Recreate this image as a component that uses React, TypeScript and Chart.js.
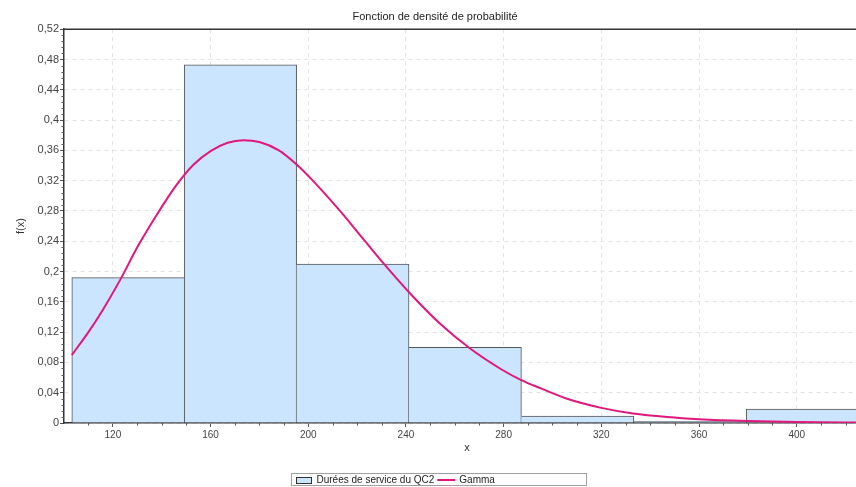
import React, { useEffect, useRef } from 'react';
import { Chart, registerables } from 'chart.js';

Chart.register(...registerables);

// ---- data ----
const binEdges = [103.2, 149.22, 195.24, 241.26, 287.28, 333.3, 379.32, 425.34];
const binFreq = [0.192, 0.473, 0.21, 0.1, 0.0092, 0.0021, 0.0185];
const gammaX = [103.2, 110, 116, 123, 130, 138, 146, 153, 160, 167, 173.4, 180, 188, 195, 201, 213, 222, 231, 242, 254, 266, 279, 287, 295, 306, 320, 333, 347, 360, 380, 400, 430];
const gammaY = [0.0897, 0.12, 0.15, 0.189, 0.232, 0.275, 0.314, 0.341, 0.359, 0.37, 0.3735, 0.371, 0.36, 0.342, 0.323, 0.28, 0.245, 0.21, 0.17, 0.131, 0.099, 0.071, 0.057, 0.046, 0.032, 0.02, 0.0125, 0.0078, 0.005, 0.0026, 0.0013, 0.0005];
const xTicks = [120, 160, 200, 240, 280, 320, 360, 400];
const yTicks = [0, 0.04, 0.08, 0.12, 0.16, 0.2, 0.24, 0.28, 0.32, 0.36, 0.4, 0.44, 0.48, 0.52];
const xMinorStep = 10;
const yMinorStep = 0.008;
const titleText = 'Fonction de densité de probabilité';
const histLabel = 'Durées de service du QC2';
const curveLabel = 'Gamma';

const FONT = '"Liberation Sans", Arial, sans-serif';
const BAR_FILL = '#cce5ff';
const BAR_BORDER = '#555555';
const CURVE = '#e0177d';

const fmt = (v: number) => {
  const s = Number(v.toFixed(3)).toString();
  return s.replace('.', ',');
};

const extras = {
  id: 'extras',
  afterDraw(chart: any) {
    const { ctx, chartArea } = chart;
    const xs = chart.scales.x;
    const ys = chart.scales.y;
    ctx.save();
    // minor ticks
    ctx.strokeStyle = '#555';
    ctx.lineWidth = 1;
    ctx.beginPath();
    for (let v = xs.min + xMinorStep; v < xs.max; v += xMinorStep) {
      const r = Math.round(v);
      if (xTicks.includes(r)) continue;
      const px = Math.round(xs.getPixelForValue(r)) + 0.5;
      ctx.moveTo(px, chartArea.bottom);
      ctx.lineTo(px, chartArea.bottom + 2.5);
    }
    const nMinor = Math.round((ys.max - ys.min) / yMinorStep);
    for (let k = 1; k < nMinor; k++) {
      if (k % 5 === 0) continue;
      const py = Math.round(ys.getPixelForValue(k * yMinorStep)) + 0.5;
      ctx.moveTo(chartArea.left - 2.5, py);
      ctx.lineTo(chartArea.left, py);
    }
    ctx.stroke();
    // top border
    ctx.strokeStyle = '#333';
    ctx.lineWidth = 1.5;
    ctx.beginPath();
    ctx.moveTo(chartArea.left, chartArea.top);
    ctx.lineTo(chartArea.right, chartArea.top);
    ctx.stroke();

    // legend
    const bx = 291.5, by = 473.5, bw = 295, bh = 12;
    ctx.strokeStyle = '#a0a0a0';
    ctx.lineWidth = 1;
    ctx.strokeRect(bx, by, bw, bh);
    ctx.fillStyle = BAR_FILL;
    ctx.fillRect(296, 477, 16, 6);
    ctx.strokeStyle = '#333';
    ctx.strokeRect(296.5, 477.5, 15, 6);
    ctx.font = `10px ${FONT}`;
    ctx.fillStyle = '#222';
    ctx.textBaseline = 'middle';
    ctx.textAlign = 'left';
    ctx.fillText(histLabel, 316.5, 480);
    const tw = ctx.measureText(histLabel).width;
    const lx = 316.5 + tw + 3;
    ctx.strokeStyle = CURVE;
    ctx.lineWidth = 2;
    ctx.beginPath();
    ctx.moveTo(lx, 480);
    ctx.lineTo(lx + 18, 480);
    ctx.stroke();
    ctx.fillText(curveLabel, lx + 22, 480);
    ctx.restore();
  },
};

export default function App() {
  const ref = useRef<HTMLCanvasElement | null>(null);
  useEffect(() => {
    if (!ref.current) return;
    const centers = binFreq.map((_, i) => (binEdges[i] + binEdges[i + 1]) / 2);
    const chart = new Chart(ref.current, {
      type: 'line',
      data: {
        datasets: [
          {
            type: 'line',
            label: curveLabel,
            data: gammaX.map((x, i) => ({ x, y: gammaY[i] })),
            xAxisID: 'x',
            yAxisID: 'y',
            borderColor: CURVE,
            borderWidth: 2,
            pointRadius: 0,
            fill: false,
            cubicInterpolationMode: 'monotone',
            order: 0,
          } as any,
          {
            type: 'bar',
            label: histLabel,
            data: centers.map((x, i) => ({ x, y: binFreq[i] })),
            xAxisID: 'xb',
            yAxisID: 'y',
            backgroundColor: BAR_FILL,
            borderColor: BAR_BORDER,
            borderSkipped: 'bottom',
            grouped: false,
            borderWidth: (c: any) => {
              const i = c.dataIndex;
              if (i === undefined) return 1;
              const h = binFreq;
              return {
                top: 1,
                left: i === 0 || h[i - 1] <= h[i] ? 1 : 0,
                right: i === h.length - 1 || h[i + 1] < h[i] ? 1 : 0,
                bottom: 0,
              };
            },
            barPercentage: 1,
            categoryPercentage: 1,
            order: 1,
          } as any,
        ],
      },
      options: {
        responsive: false,
        maintainAspectRatio: false,
        devicePixelRatio: 1,
        animation: false,
        layout: { padding: { left: 0, right: 8, top: 0, bottom: 24 } },
        plugins: {
          legend: { display: false },
          tooltip: { enabled: false },
          title: {
            display: true,
            text: titleText,
            color: '#222',
            font: { family: FONT, size: 11, weight: 'normal' },
            padding: { top: 10, bottom: 6 },
          },
        },
        scales: {
          x: {
            type: 'linear',
            position: 'bottom',
            offset: false,
            min: 100,
            max: 430,
            afterBuildTicks: (ax: any) => {
              ax.ticks = xTicks.map((v) => ({ value: v }));
            },
            afterFit: (ax: any) => {
              ax.height = 40;
            },
            ticks: {
              autoSkip: false,
              maxRotation: 0,
              padding: 2,
              color: '#444',
              font: { family: FONT, size: 10 },
              callback: (v: any) => String(v),
            },
            grid: { offset: false, color: '#e4e4e4', tickColor: '#555', tickLength: 4, lineWidth: 1 },
            border: { display: true, color: '#333', width: 1.5, dash: [4, 4] },
            title: {
              display: true,
              text: 'x',
              color: '#333',
              font: { family: FONT, size: 11 },
              padding: { top: 0, bottom: 8 },
            },
          },
          xb: {
            type: 'linear',
            display: false,
            offset: false,
            min: 100,
            max: 430,
            afterBuildTicks: (ax: any) => {
              ax.ticks = [];
            },
            ticks: { display: false },
            grid: { display: false, offset: false },
          },
          y: {
            type: 'linear',
            min: 0,
            max: 0.52,
            afterBuildTicks: (ax: any) => {
              ax.ticks = yTicks.map((v) => ({ value: v }));
            },
            afterFit: (ax: any) => {
              ax.width = 64;
            },
            ticks: {
              padding: 1,
              color: '#444',
              font: { family: FONT, size: 11 },
              callback: (v: any) => fmt(Number(v)),
            },
            grid: { color: '#e4e4e4', tickColor: '#555', tickLength: 4, lineWidth: 1 },
            border: { display: true, color: '#333', width: 1.5, dash: [4, 4] },
            title: {
              display: true,
              text: 'f(x)',
              color: '#333',
              font: { family: FONT, size: 11 },
              padding: { top: 14, bottom: 0 },
            },
          },
        },
      } as any,
      plugins: [extras],
    });
    return () => chart.destroy();
  }, []);

  return (
    <div
      style={{
        position: 'fixed',
        left: 0,
        top: 0,
        width: 856,
        height: 487,
        overflow: 'hidden',
        background: '#fff',
      }}
    >
      <canvas ref={ref} width={878} height={487} style={{ display: 'block' }} />
    </div>
  );
}
